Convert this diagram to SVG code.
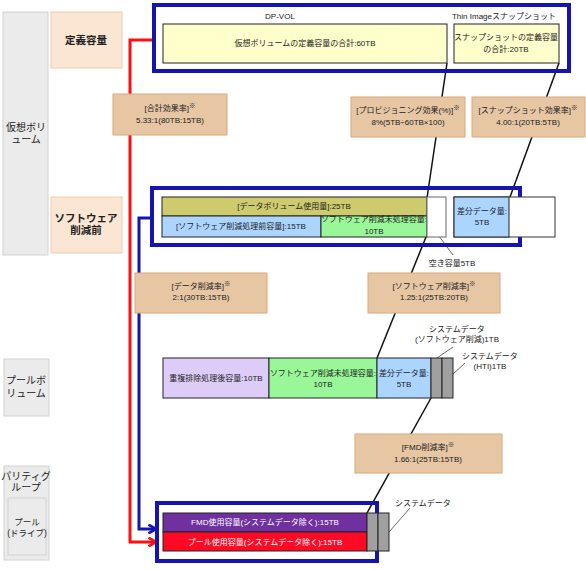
<svg xmlns="http://www.w3.org/2000/svg" width="586" height="570" viewBox="0 0 586 570">
<defs>
<style>
text{font-family:"Liberation Sans","Noto Sans CJK JP",sans-serif;fill:#222;text-anchor:middle}
.s{font-size:8px}
.h{font-size:10.5px;font-weight:bold}
.m{font-size:10px}
.sm{font-size:8.5px}
.w{fill:#fff}
.lbl{fill:#E7C6A4;stroke:#DBA878;stroke-width:1}
.hdr{fill:#FBE5D3;stroke:#F0CDAE;stroke-width:1}
.gry{fill:#EBEBEB;stroke:#D2D2D2;stroke-width:1}
.bar{stroke:#222;stroke-width:1}
.grp{fill:none;stroke:#1414B4;stroke-width:4}
.ld{stroke:#111;stroke-width:1.5;fill:none}
.thin{stroke:#444;stroke-width:0.8;fill:none}
.sup{font-size:6.5px}
</style>
<marker id="arR" viewBox="0 0 10 10" refX="8" refY="5" markerWidth="3.6" markerHeight="3.6" orient="auto" markerUnits="strokeWidth">
<path d="M1,1 L8,5 L1,9" fill="none" stroke="#FF1010" stroke-width="2.5"/>
</marker>
<marker id="arB" viewBox="0 0 10 10" refX="8" refY="5" markerWidth="3.6" markerHeight="3.6" orient="auto" markerUnits="strokeWidth">
<path d="M1,1 L8,5 L1,9" fill="none" stroke="#1414B4" stroke-width="2.5"/>
</marker>
</defs>
<rect width="586" height="570" fill="#fff"/>

<!-- left headers -->
<g id="col-virtual"><rect class="gry" x="3" y="12" width="45" height="243"/><text class="m" x="26" y="131">仮想ボリ</text><text class="m" x="26" y="143">ューム</text></g>
<g id="hdr-def"><rect class="hdr" x="51" y="12" width="71" height="56"/><text class="h" x="86" y="44">定義容量</text></g>
<g id="hdr-sw"><rect class="hdr" x="51" y="197" width="71" height="56"/><text class="h" x="86" y="222">ソフトウェア</text><text class="h" x="86" y="234">削減前</text></g>
<g id="col-pool"><rect class="gry" x="4" y="359" width="45" height="57"/><text class="m" x="26" y="384">プールボ</text><text class="m" x="26" y="397">リューム</text></g>
<g id="col-parity"><rect class="gry" x="4" y="466" width="45" height="94"/><text class="m" x="26" y="480">パリティグ</text><text class="m" x="26" y="491">ループ</text>
<rect class="gry" x="8" y="498" width="38" height="57"/><text class="sm" x="27" y="525">プール</text><text class="sm" x="27" y="536">(ドライブ)</text></g>

<!-- connectors -->
<g id="connectors">
<path d="M152,40 H130 V542 H156" fill="none" stroke="#FF1010" stroke-width="3" marker-end="url(#arR)"/>
<path d="M151,218 H139 V529 H156" fill="none" stroke="#1414B4" stroke-width="3" marker-end="url(#arB)"/>
<line class="ld" x1="447" y1="63" x2="427" y2="198"/>
<line class="ld" x1="559" y1="63" x2="510" y2="197"/>
<line class="ld" x1="426" y1="237" x2="377" y2="358"/>
<line class="ld" x1="431" y1="398" x2="367" y2="513"/>
<line class="thin" x1="433" y1="228" x2="453" y2="255"/>
<line class="thin" x1="437" y1="358" x2="453" y2="347"/>
<line class="thin" x1="453" y1="374" x2="465" y2="363"/>
<line class="thin" x1="389" y1="532" x2="410" y2="508"/>
</g>

<!-- defined capacity -->
<g id="def-group">
<rect class="grp" x="154" y="5" width="415" height="66"/>
<text class="s" x="280" y="19">DP-VOL</text>
<text class="s" x="504" y="19">Thin Imageスナップショット</text>
</g>
<g id="dpvol"><rect class="bar" fill="#FFFFCC" x="163" y="24" width="284" height="39"/><text class="s" x="305" y="46">仮想ボリュームの定義容量の合計:60TB</text></g>
<g id="snap"><rect class="bar" fill="#FFFFCC" x="454" y="24" width="105" height="39"/><text class="s" x="506" y="40">スナップショットの定義容量</text><text class="s" x="506" y="52">の合計:20TB</text></g>

<!-- efficiency labels -->
<g id="lbl-total"><rect class="lbl" x="113" y="94" width="114" height="41"/><text class="s" x="170" y="111">[合計効果率]<tspan class="sup" dy="-3">※</tspan></text><text class="s" x="170" y="123">5.33:1(80TB:15TB)</text></g>
<g id="lbl-prov"><rect class="lbl" x="351" y="97" width="114" height="40"/><text class="s" x="408" y="113">[プロビジョニング効果(%)]<tspan class="sup" dy="-3">※</tspan></text><text class="s" x="408" y="125">8%(5TB÷60TB×100)</text></g>
<g id="lbl-snap"><rect class="lbl" x="472" y="97" width="113" height="40"/><text class="s" x="528" y="113">[スナップショット効果率]<tspan class="sup" dy="-3">※</tspan></text><text class="s" x="528" y="125">4.00:1(20TB:5TB)</text></g>

<!-- before software reduction -->
<g id="sw-group"><rect class="grp" x="152" y="188" width="368" height="57"/></g>
<g id="datavol"><rect class="bar" fill="#CDCB6E" x="162" y="197" width="265" height="19"/><text class="s" x="294" y="209">[データボリューム使用量]:25TB</text></g>
<g id="sw-pre"><rect class="bar" fill="#ABD5FF" x="162" y="216" width="159" height="21"/><text class="s" x="241" y="229">[ソフトウェア削減処理前容量]:15TB</text></g>
<g id="sw-unproc"><rect class="bar" fill="#99F799" x="321" y="216" width="106" height="21"/><text class="s" x="374" y="222">ソフトウェア削減未処理容量:</text><text class="s" x="374" y="234">10TB</text></g>
<g id="free"><rect fill="#fff" stroke="#666" x="427" y="197" width="19" height="40"/></g>
<g id="diff"><rect fill="#fff" stroke="#333" x="454" y="197" width="101" height="40"/><rect class="bar" fill="#ABD5FF" x="454" y="197" width="55" height="40"/><text class="s" x="482" y="214">差分データ量:</text><text class="s" x="482" y="225">5TB</text></g>
<text class="s" x="452" y="266">空き容量5TB</text>

<g id="lbl-data"><rect class="lbl" x="135" y="273" width="132" height="40"/><text class="s" x="201" y="289">[データ削減率]<tspan class="sup" dy="-3">※</tspan></text><text class="s" x="201" y="300">2:1(30TB:15TB)</text></g>
<g id="lbl-sw"><rect class="lbl" x="368" y="273" width="132" height="40"/><text class="s" x="434" y="289">[ソフトウェア削減率]<tspan class="sup" dy="-3">※</tspan></text><text class="s" x="434" y="300">1.25:1(25TB:20TB)</text></g>

<!-- pool volume -->
<g id="pool-dedup"><rect class="bar" fill="#DDCCF7" x="163" y="358" width="106" height="40"/><text class="s" x="216" y="381">重複排除処理後容量:10TB</text></g>
<g id="pool-unproc"><rect class="bar" fill="#99F799" x="269" y="358" width="108" height="40"/><text class="s" x="323" y="376">ソフトウェア削減未処理容量:</text><text class="s" x="323" y="387">10TB</text></g>
<g id="pool-diff"><rect class="bar" fill="#ABD5FF" x="377" y="358" width="54" height="40"/><text class="s" x="404" y="376">差分データ量:</text><text class="s" x="404" y="387">5TB</text></g>
<g id="pool-sys"><rect class="bar" fill="#A0A0A0" x="431" y="358" width="11" height="40"/><rect class="bar" fill="#A0A0A0" x="442" y="358" width="11" height="40"/></g>
<text class="s" x="457" y="332">システムデータ</text><text class="s" x="457" y="342">(ソフトウェア削減)1TB</text>
<text class="s" x="490" y="359">システムデータ</text><text class="s" x="490" y="369">(HTI)1TB</text>

<g id="lbl-fmd"><rect class="lbl" x="355" y="434" width="147" height="39"/><text class="s" x="428" y="450">[FMD削減率]<tspan class="sup" dy="-3">※</tspan></text><text class="s" x="428" y="462">1.66:1(25TB:15TB)</text></g>

<!-- parity group -->
<g id="pg-group"><rect class="grp" x="157" y="503" width="220" height="58"/></g>
<g id="fmd-used"><rect class="bar" fill="#7030A0" x="163" y="513" width="204" height="19"/><text class="s w" x="265" y="525">FMD使用容量(システムデータ除く):15TB</text></g>
<g id="pool-used"><rect class="bar" fill="#FF0A24" x="163" y="532" width="204" height="19"/><text class="s w" x="265" y="545">プール使用容量(システムデータ除く):15TB</text></g>
<g id="pg-sys"><rect class="bar" fill="#A0A0A0" x="367" y="513" width="11" height="38"/><rect class="bar" fill="#A0A0A0" x="378" y="513" width="11" height="38"/></g>
<text class="s" x="423" y="506">システムデータ</text>
</svg>
